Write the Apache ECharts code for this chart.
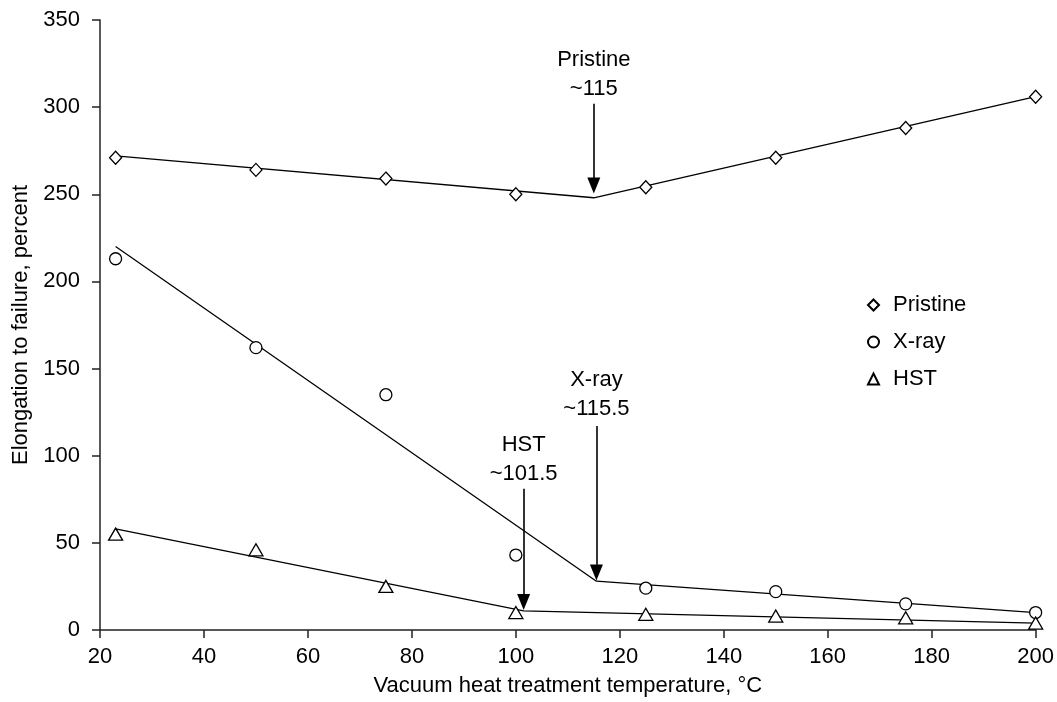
<!DOCTYPE html>
<html>
<head>
<meta charset="utf-8">
<script src="https://cdn.jsdelivr.net/npm/echarts@6/dist/echarts.min.js"></script>
<style>
  html, body { margin: 0; padding: 0; background: #fff; }
  #chart { width: 1057px; height: 702px; }
</style>
</head>
<body>
<div id="chart"></div>
<script>
// measured points
const temps = [23, 50, 75, 100, 125, 150, 175, 200]
const pristine = [271, 264, 259, 250, 254, 271, 288, 306]
const xray = [213, 162, 135, 43, 24, 22, 15, 10]
const hst = [55, 46, 25, 10, 9, 8, 7, 4]

// bilinear fits (start, break, end)
const pristineFitX = [23, 115, 200]
const pristineFitY = [272, 248, 306]
const xrayFitX = [23, 115.5, 200]
const xrayFitY = [220, 28, 10]
const hstFitX = [23, 101.5, 200]
const hstFitY = [58, 11, 4]

// annotation arrows: x, arrow top, arrow tip, label centre
const arrowX = [115, 115.5, 101.5]
const arrowTop = [302, 117, 81]
const arrowTip = [255, 33, 16]
const labelY = [318.5, 135, 98]
const labelText = ['Pristine\n~115', 'X-ray\n~115.5', 'HST\n~101.5']

const font = 'Liberation Sans, Arial, Helvetica, sans-serif'
const pair = (xs, ys) => xs.map((x, i) => [x, ys[i]])

const markerStyle = { color: '#fff', borderColor: '#000', borderWidth: 1.3, opacity: 1 }
const fitStyle = { color: '#000', width: 1.3 }

const chart = echarts.init(document.getElementById('chart'))
chart.setOption({
  animation: false,
  backgroundColor: '#fff',
  grid: { left: 100, right: 21, top: 20, bottom: 68 },
  legend: {
    orient: 'vertical',
    left: 862,
    top: 289,
    itemGap: 15,
    itemWidth: 11,
    itemHeight: 11,
    data: ['Pristine', 'X-ray', 'HST'],
    textStyle: { fontFamily: font, fontSize: 22, color: '#000', padding: [0, 0, 0, 9] }
  },
  xAxis: {
    type: 'value',
    min: 20,
    max: 200,
    interval: 20,
    name: 'Vacuum heat treatment temperature, °C',
    nameLocation: 'middle',
    nameGap: 45,
    nameTextStyle: { fontFamily: font, fontSize: 22, color: '#000' },
    axisLine: { lineStyle: { color: '#222', width: 1.5 } },
    axisTick: { length: 8, lineStyle: { color: '#222', width: 1.5 } },
    axisLabel: { fontFamily: font, fontSize: 22, color: '#000', margin: 16 },
    splitLine: { show: false }
  },
  yAxis: {
    type: 'value',
    min: 0,
    max: 350,
    interval: 50,
    name: 'Elongation to failure, percent',
    nameLocation: 'middle',
    nameGap: 68,
    nameTextStyle: { fontFamily: font, fontSize: 22, color: '#000' },
    axisLine: { show: true, lineStyle: { color: '#222', width: 1.5 } },
    axisTick: { show: true, length: 8, lineStyle: { color: '#222', width: 1.5 } },
    axisLabel: { fontFamily: font, fontSize: 22, color: '#000', margin: 20 },
    splitLine: { show: false }
  },
  series: [
    { type: 'line', data: pair(pristineFitX, pristineFitY), showSymbol: false, lineStyle: fitStyle, z: 1 },
    { type: 'line', data: pair(xrayFitX, xrayFitY), showSymbol: false, lineStyle: fitStyle, z: 1 },
    { type: 'line', data: pair(hstFitX, hstFitY), showSymbol: false, lineStyle: fitStyle, z: 1 },
    {
      name: 'Pristine', type: 'scatter', symbol: 'diamond', symbolSize: [12, 13],
      data: pair(temps, pristine), itemStyle: markerStyle, z: 3
    },
    {
      name: 'X-ray', type: 'scatter', symbol: 'circle', symbolSize: 12,
      data: pair(temps, xray), itemStyle: markerStyle, z: 3
    },
    {
      name: 'HST', type: 'scatter', symbol: 'triangle', symbolSize: [14, 12],
      data: pair(temps, hst), itemStyle: markerStyle, z: 3
    },
    {
      // arrows and their labels
      type: 'scatter',
      data: pair(arrowX, labelY),
      symbolSize: 0,
      itemStyle: { opacity: 1 },
      label: {
        show: true,
        position: 'inside',
        formatter: p => labelText[p.dataIndex],
        fontFamily: font,
        fontSize: 22,
        lineHeight: 29,
        color: '#000',
        align: 'center'
      },
      markLine: {
        silent: true,
        symbol: ['none', 'triangle'],
        symbolSize: [13, 16],
        label: { show: false },
        lineStyle: { color: '#000', width: 1.6, type: 'solid' },
        data: arrowX.map((x, i) => [{ coord: [x, arrowTop[i]] }, { coord: [x, arrowTip[i]] }])
      },
      z: 4
    }
  ]
})
</script>
</body>
</html>
